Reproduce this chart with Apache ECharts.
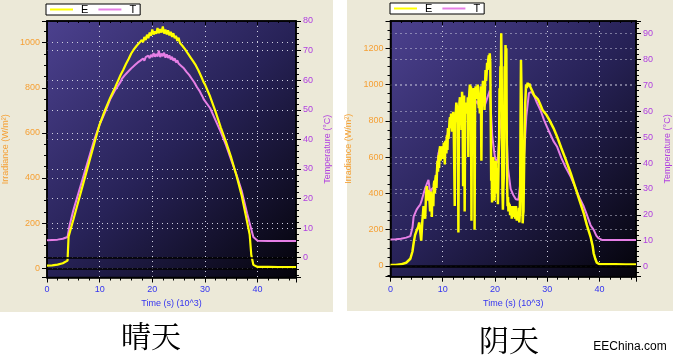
<!DOCTYPE html>
<html><head><meta charset="utf-8">
<script src="https://cdn.jsdelivr.net/npm/echarts@6/dist/echarts.min.js"></script>
<style>html,body{margin:0;padding:0;background:#fff}#c{width:673px;height:360px}</style>
</head><body><div id="c"></div><script>
// ---------- data (time in 10^3 s) ----------
const sunnyTimeE = [0,1,2,3,3.9,4.1,5,6,7,8,9,9.5,10,11,12,13,
 14,14.25,14.5,14.75,15,15.25,15.5,15.75,16,16.25,16.5,16.75,17,17.25,17.5,17.75,18,18.25,18.5,18.75,19,19.25,19.5,19.75,20,20.25,20.5,20.75,21,21.25,21.5,21.75,22,22.25,22.5,22.75,23,23.25,23.5,23.75,24,24.25,24.5,24.75,25,25.25,25.5,25.75,26,26.25,26.5,26.75,27,27.25,27.5,27.75,28,28.25,28.5,28.75,29,29.25,29.5,29.75,30,
 31,32,33,34,35,36,37,37.8,38.5,38.8,39.2,40,42,44,46,47.3];
const sunnyE = [12,13,16,22,34,140,215,300,385,470,555,597,638,700,755,805,
 858,866,880,884,905,906,928,930,952,948,970,966,985,978,998,990,1012,1002,1025,1012,1035,1020,1045,1030,1058,1036,1050,1040,1065,1042,1060,1045,1072,1040,1058,1036,1055,1032,1048,1025,1042,1020,1030,1008,1022,998,1005,985,992,970,975,952,958,935,940,918,922,900,898,878,872,852,845,825,815,
 760,695,625,560,490,410,320,230,150,60,15,6,6,5,5,5];
const sunnyTimeT = [0,2,3,3.9,4.3,5,6,7,8,9,10,11,12,13,
 14,14.25,14.5,14.75,15,15.25,15.5,15.75,16,16.25,16.5,16.75,17,17.25,17.5,17.75,18,18.25,18.5,18.75,19,19.25,19.5,19.75,20,20.25,20.5,20.75,21,21.25,21.5,21.75,22,22.25,22.5,22.75,23,23.25,23.5,23.75,24,24.25,24.5,24.75,25,25.25,25.5,25.75,26,26.25,26.5,26.75,27,27.25,27.5,27.75,28,28.25,28.5,28.75,29,29.25,29.5,29.75,30,
 31,32,33,34,35,36,37,38,38.6,39.2,40,42,44,46,47.3];
const sunnyT = [5.9,6.1,6.4,7,11,16,22,28,34,40,45,49,53.5,56.8,
 59.5,60.5,60.4,61.6,61.5,62.6,62.3,63.5,63.5,64.4,64,65.2,65,66,65.4,66.6,66.2,67.3,66.6,67.8,67.2,68.3,67.4,68.6,67.8,69.2,67.9,68.9,68,70,67.8,69,68.1,69.3,67.6,68.7,67.5,68.4,67,67.9,66.6,67.4,66,66.7,65.6,65.9,64.8,65.1,64,64.1,62.8,63,61.8,61.9,60.5,60.4,59.2,58.8,57.6,57.2,56.3,55.4,54.6,53.6,53,
 50.5,46.5,42.5,38,33,28,22.5,15,11,7,5.7,5.6,5.6,5.6,5.6];

const cloudyE = [[0,5],[1,6],[2,9],[3,18],[3.8,40],[4.2,80],[4.45,130],[4.7,170],[5.0,195],[5.3,215],[5.5,240],[5.7,230],[5.88,140],[6.1,250],[6.33,330],[6.5,300],[6.64,260],[6.8,390],[6.96,440],[7.1,360],[7.27,420],[7.45,370],[7.59,300],[7.75,410],[7.91,270],
 [8.0,400],[8.1,380],[8.2,330],[8.3,450],[8.4,470],[8.5,400],[8.6,480],[8.7,500],[8.8,430],[8.9,520],[9.0,580],[9.1,520],[9.2,610],[9.3,540],[9.4,640],[9.5,660],[9.6,580],[9.7,630],[9.8,650],[9.9,590],
 [10.0,660],[10.1,600],[10.2,680],[10.3,640],[10.4,560],[10.5,690],[10.6,680],[10.7,620],[10.8,720],[10.9,640],[11.0,760],[11.1,700],[11.2,740],[11.3,800],[11.4,820],[11.5,760],[11.6,840],[11.7,830],[11.8,740],[11.9,800],
 [12.0,850],[12.1,790],[12.2,560],[12.3,330],[12.4,780],[12.5,840],[12.6,900],[12.7,880],[12.8,820],[12.9,860],[13.0,185],[13.1,820],[13.2,900],[13.3,930],[13.4,850],[13.5,880],[13.6,750],[13.7,960],[13.8,900],[13.9,440],
 [14.0,900],[14.1,940],[14.2,300],[14.3,880],[14.4,900],[14.5,860],[14.6,880],[14.7,840],[14.8,930],[14.9,600],[15.0,900],[15.1,960],[15.2,1000],[15.3,940],[15.4,990],[15.5,250],[15.6,960],[15.7,900],[15.8,930],[15.9,980],
 [16.0,900],[16.1,200],[16.2,950],[16.3,990],[16.4,920],[16.5,985],[16.6,960],[16.7,1000],[16.8,940],[16.9,870],[17.0,950],[17.1,840],[17.2,900],[17.3,990],[17.4,580],[17.5,980],[17.6,950],[17.7,1020],[17.8,900],[17.9,960],
 [18.0,860],[18.1,1000],[18.2,1080],[18.3,1020],[18.4,1060],[18.5,1120],[18.6,1080],[18.7,1130],[18.8,1160],[18.9,1100],[19.0,1172],[19.1,1120],[19.2,800],
 [19.28,470],[19.36,560],[19.44,350],[19.52,520],[19.6,420],[19.68,600],[19.76,480],[19.84,560],[19.92,360],[20.0,500],[20.08,420],[20.16,580],[20.24,400],[20.32,540],[20.4,460],[20.48,520],[20.56,340],[20.64,480],[20.72,620],[20.8,700],[20.88,980],[20.96,900],
 [21.05,1100],[21.12,1000],[21.2,1282],[21.28,1100],[21.36,700],[21.44,400],[21.52,310],[21.6,420],[21.7,500],[21.78,800],[21.86,1100],[21.94,1000],[22.02,1218],[22.1,1150],[22.18,1200],[22.26,700],[22.34,430],[22.42,330],[22.5,380],[22.58,300],[22.66,350],[22.74,320],[22.82,340],[22.9,280],[22.98,330],
 [23.06,300],[23.14,320],[23.22,260],[23.3,330],[23.38,340],[23.46,280],[23.54,310],[23.62,270],[23.7,300],[23.78,330],[23.86,260],[23.94,300],[24.02,330],[24.1,270],[24.18,250],[24.26,300],[24.34,280],[24.42,300],[24.5,270],[24.58,320],[24.66,240],[24.74,280],[24.82,420],[24.9,800],[24.98,1135],
 [25.06,1000],[25.14,900],[25.22,500],[25.3,235],[25.38,280],[25.46,300],[25.6,600],[25.8,900],[25.95,1000],[26.1,980],[26.25,1010],[26.4,990],[26.57,1005],[26.8,985],[27.0,975],[27.2,960],[27.5,940],[27.8,950],[28.2,920],[28.6,895],[29.1,860],[29.4,870],[29.8,835],[30.4,805],[31.2,760],[31.9,712],[32.7,650],[33.5,590],[34.5,511],[35.3,440],[36.2,360],[37.0,290],[37.6,225],[38.3,161],[38.7,110],[38.9,70],[39.2,40],[39.5,18],[40.0,10],[41,9],[43,9],[45,8],[47,8]];
const cloudyT = [[0,10.5],[1,10.6],[2,10.8],[3,11.2],[3.8,11.8],[4.2,15],[4.43,19.3],[5.0,22],[5.4,23.2],[5.7,24],[6.0,25.8],[6.3,28],[6.6,30],[7.0,32.2],[7.27,33.5],[7.6,28.3],[7.9,30],[8.2,30.5],[8.54,31],[8.86,36],[9.17,43.8],[9.5,45.5],[9.8,46.3],[10.2,45],[10.6,48],[11.0,52],[11.5,55],[12.0,57],[12.5,58],[13.0,56],[13.5,60],[14.0,61],[14.5,62],[15.0,63],[15.5,61],[16.0,62],[16.5,64],[17.0,62],[17.5,63],[18.0,62],[18.5,65],[19.0,68],[19.5,50],[20.0,42],[20.5,40],[21.0,55],[21.5,60],[22.0,62],[22.5,38],[23.0,30],[23.5,27.7],[24.0,26],[24.5,25.8],[25.0,35],[25.5,40],[26.0,58],[26.5,67],[27.0,67.5],[27.5,66],[28.0,63.5],[28.7,60.5],[29.4,56.6],[30.4,52],[31.2,48.5],[31.9,46.3],[32.7,42],[33.5,38.5],[34.5,34.7],[35.3,31],[36.2,26.5],[37.0,23.2],[37.6,20],[38.3,16],[38.9,14.2],[39.4,12],[39.8,11],[40.5,10.3],[43,10.3],[47,10.3]];

const seriesNames = ['E','T'];
const xName = 'Time (s) (10^3)';
const yNameLeft = 'Irradiance (W/m²)';
const yNameRight = 'Temperature (°C)';
const captions = ['晴天','阴天'];
const watermark = 'EEChina.com';

// ---------- styling ----------
const FONT = '"Liberation Sans", Arial, sans-serif';
const ORANGE = '#F5A035', PURPLE = '#B040E0', BLUE = '#3434F0';
const YELLOW = '#FFFF00', PINK = '#E67FE6';
const BEIGE = '#ECE9D8';
const zip = (a, b) => a.map((t, i) => [t, b[i]]);
const plain = v => String(Math.round(v * 100) / 100);

function plotBg() {
  return {type:'linear', x:0, y:0, x2:1, y2:1, colorStops:[
    {offset:0, color:'#4c418f'}, {offset:0.5, color:'#272257'}, {offset:1, color:'#040309'}]};
}
const dotted = {show:true, showMinLine:false, showMaxLine:false, lineStyle:{color:'#cfcfe0', type:[1,4], width:1}};

function bottomX(gi, max) {
  return {type:'value', gridIndex:gi, position:'bottom', min:0, max:max, splitNumber:5,
    axisLine:{show:true, onZero:false, lineStyle:{color:'#000', width:1.5}},
    axisTick:{show:true, length:5, lineStyle:{color:'#000'}},
    minorTick:{show:true, splitNumber:5, length:3, lineStyle:{color:'#000'}},
    axisLabel:{color:BLUE, fontSize:9, fontFamily:FONT, margin:8, showMaxLabel:false, formatter:plain},
    splitLine:dotted,
    name:xName, nameLocation:'middle', nameGap:22,
    nameTextStyle:{color:BLUE, fontSize:9, fontFamily:FONT}};
}
function topX(gi, max) {
  return {type:'value', gridIndex:gi, position:'top', min:0, max:max, splitNumber:5,
    axisLine:{show:true, onZero:false, lineStyle:{color:'#000', width:1.5}},
    axisTick:{show:true, inside:true, length:4, lineStyle:{color:'#000'}},
    minorTick:{show:true, splitNumber:5, length:2, lineStyle:{color:'#000'}},
    axisLabel:{show:false}, splitLine:{show:false}};
}
function yAx(gi, pos, min, max, split, color, name, gap, showMax) {
  return {type:'value', gridIndex:gi, position:pos, min:min, max:max, splitNumber:split,
    axisLine:{show:true, onZero:false, lineStyle:{color:'#000', width:1.5}},
    axisTick:{show:true, length:5, lineStyle:{color:'#000'}},
    minorTick:{show:true, splitNumber:pos === 'left' ? 4 : 5, length:3, lineStyle:{color:'#000'}},
    axisLabel:{color:color, fontSize:9, fontFamily:FONT, margin:7, showMinLabel:false, showMaxLabel:showMax, formatter:plain},
    splitLine:dotted,
    name:name, nameLocation:'middle', nameRotate:90, nameGap:gap,
    nameTextStyle:{color:color, fontSize:9, fontFamily:FONT}};
}
function zeroLine() {
  return {silent:true, symbol:'none', label:{show:false}, animation:false,
    lineStyle:{color:'#000', type:'solid', width:1.5}, data:[{yAxis:0}]};
}
function lineSeries(name, xi, yi, data, color, width, z) {
  return {name:name, type:'line', xAxisIndex:xi, yAxisIndex:yi, data:data,
    symbol:'none', showSymbol:false, z:z,
    lineStyle:{color:color, width:width}, itemStyle:{color:color},
    emphasis:{disabled:true}, markLine:zeroLine()};
}
function legendAt(left, top) {
  return {data:seriesNames, left:left, top:top, orient:'horizontal', selectedMode:false,
    backgroundColor:'#fff', borderColor:'#000', borderWidth:1, borderRadius:0,
    padding:[0,4,0,4], itemGap:10, itemWidth:23, itemHeight:2, icon:'rect',
    formatter:' {name}',
    textStyle:{color:'#000', fontSize:11, lineHeight:11, fontFamily:FONT}};
}

const chart = echarts.init(document.getElementById('c'), null, {renderer:'canvas'});
chart.setOption({
  animation:false,
  backgroundColor:'#fff',
  graphic:{elements:[
    {type:'rect', z:-10, silent:true, shape:{x:0, y:0, width:333, height:312}, style:{fill:BEIGE}},
    {type:'rect', z:-10, silent:true, shape:{x:347, y:0, width:326, height:311}, style:{fill:BEIGE}},
    {type:'text', x:151, y:336, silent:true, style:{text:captions[0], fill:'#000',
      font:'30px "Noto Serif CJK SC","Noto Sans CJK SC",sans-serif', align:'center', verticalAlign:'middle'}},
    {type:'text', x:509, y:340, silent:true, style:{text:captions[1], fill:'#000',
      font:'30px "Noto Serif CJK SC","Noto Sans CJK SC",sans-serif', align:'center', verticalAlign:'middle'}},
    {type:'text', x:630, y:347, silent:true, style:{text:watermark, fill:'#000',
      font:'12px "Liberation Sans", Arial, sans-serif', align:'center', verticalAlign:'middle'}}
  ]},
  legend:[legendAt(46, 4), legendAt(390, 3)],
  grid:[
    {left:46, top:21, width:250, height:256.5, show:true, backgroundColor:plotBg(), borderColor:'#000', borderWidth:1.5, containLabel:false},
    {left:390.5, top:21, width:247, height:255.7, show:true, backgroundColor:plotBg(), borderColor:'#000', borderWidth:1.5, containLabel:false}
  ],
  xAxis:[bottomX(0, 47.3), topX(0, 47.3), bottomX(1, 47), topX(1, 47)],
  yAxis:[
    yAx(0, 'left', -41, 1096, 5, ORANGE, yNameLeft, 37, false),
    yAx(0, 'right', -6.7, 80, 8, PURPLE, yNameRight, 27, true),
    yAx(1, 'left', -59, 1350, 6, ORANGE, yNameLeft, 37, false),
    yAx(1, 'right', -3.9, 94.9, 9, PURPLE, yNameRight, 27, false)
  ],
  series:[
    lineSeries('T', 0, 1, zip(sunnyTimeT, sunnyT), PINK, 2, 2),
    lineSeries('E', 0, 0, zip(sunnyTimeE, sunnyE), YELLOW, 2.2, 3),
    lineSeries('T', 2, 3, cloudyT, PINK, 2, 2),
    lineSeries('E', 2, 2, cloudyE, YELLOW, 2.5, 3)
  ]
});
</script></body></html>
